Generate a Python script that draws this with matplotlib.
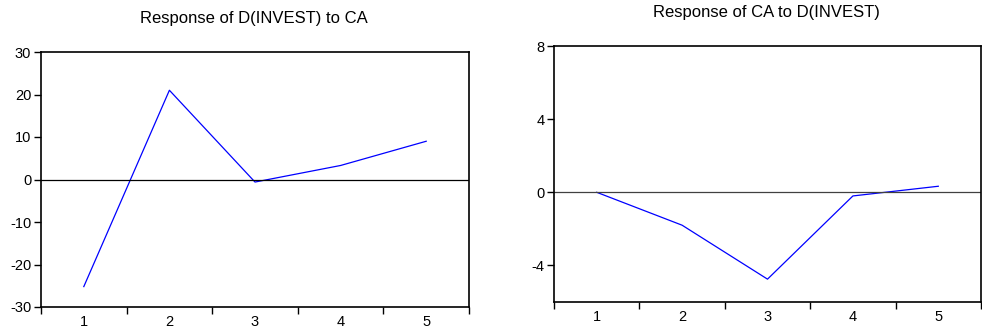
import matplotlib
matplotlib.use("Agg")
from matplotlib import pyplot as plt
import numpy as np

plt.rcParams['font.family'] = ['Liberation Sans', 'DejaVu Sans']
plt.rcParams['axes.unicode_minus'] = False

periods = [1, 2, 3, 4, 5]
invest_to_ca = [-25.2, 21.0, -0.6, 3.3, 9.0]
ca_to_invest = [0.0, -1.8, -4.75, -0.2, 0.33]

titles = ['Response of D(INVEST) to CA', 'Response of CA to D(INVEST)']
ylims = [(-30, 30), (-6, 8)]
yticks = [[-30, -20, -10, 0, 10, 20, 30], [-4, 0, 4, 8]]
zero_colors = ['black', '#404040']

W, H = 982, 332
fig = plt.figure(figsize=(W / 100, H / 100), dpi=100)

# axes boxes in pixels: left, top, right, bottom
boxes = [(41, 52, 469, 307), (554, 46, 981, 302)]
title_y = [19, 13]
title_x = [254, 766]

for i, series in enumerate([invest_to_ca, ca_to_invest]):
    l, t, r, b = boxes[i]
    ax = fig.add_axes([l / W, 1 - b / H, (r - l) / W, (b - t) / H])
    ax.plot(periods, series, color='blue', lw=0.9)
    ax.axhline(0, color=zero_colors[i], lw=0.9)
    ax.set_xlim(0.5, 5.5)
    ax.set_ylim(*ylims[i])
    ax.set_yticks(yticks[i])
    ax.set_xticks(periods)
    ax.set_xticks(np.arange(0.5, 6.0, 1.0), minor=True)
    ax.tick_params(axis='x', which='major', length=0, pad=6, labelsize=10.5)
    ax.tick_params(axis='x', which='minor', length=5, width=1, direction='out')
    ax.tick_params(axis='y', length=5, width=1, direction='out', pad=2, labelsize=10.5)
    for s in ax.spines.values():
        s.set_linewidth(1.2)
    fig.text(title_x[i] / W, 1 - title_y[i] / H, titles[i], ha='center', va='center', fontsize=12)

fig.savefig('out.png', dpi=100)
